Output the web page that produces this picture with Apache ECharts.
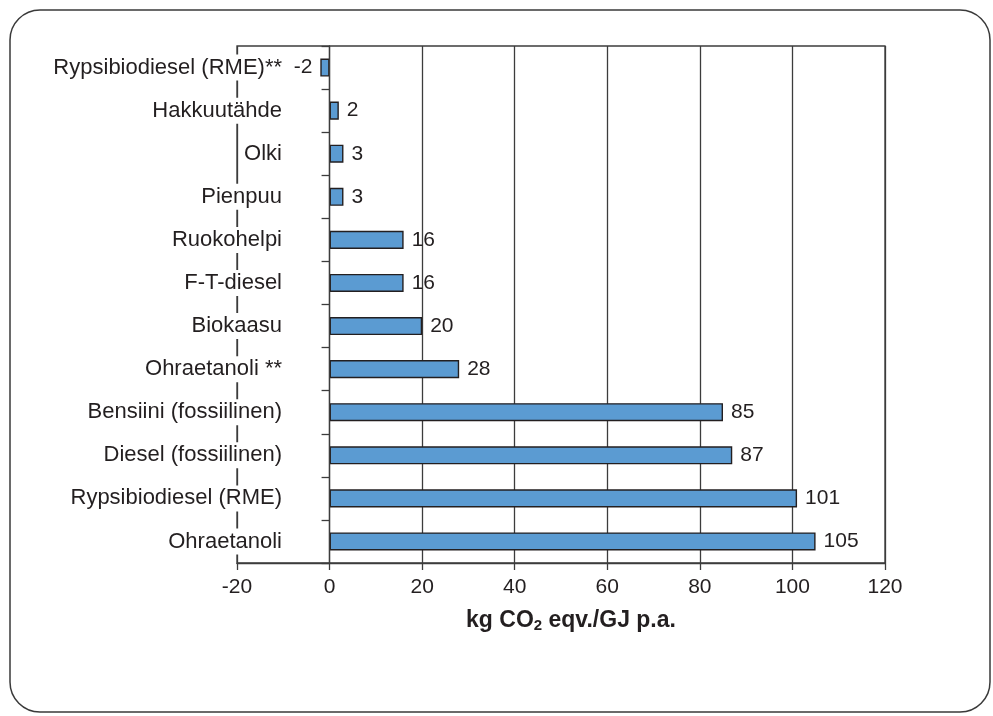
<!DOCTYPE html>
<html>
<head>
<meta charset="utf-8">
<script src="https://cdn.jsdelivr.net/npm/echarts@6/dist/echarts.min.js"></script>
<style>
  html, body { margin: 0; padding: 0; background: #fff; }
  #chart { width: 993px; height: 716px; }
</style>
</head>
<body>
<div id="chart"></div>
<script>
// Emissions per fuel, listed top to bottom
const categories = [
  'Rypsibiodiesel (RME)**',
  'Hakkuutähde',
  'Olki',
  'Pienpuu',
  'Ruokohelpi',
  'F-T-diesel',
  'Biokaasu',
  'Ohraetanoli **',
  'Bensiini (fossiilinen)',
  'Diesel (fossiilinen)',
  'Rypsibiodiesel (RME)',
  'Ohraetanoli'
];
const values = [-2, 2, 3, 3, 16, 16, 20, 28, 85, 87, 101, 105];
const xTicks = { min: -20, max: 120, interval: 20 };

const FONT = '"Liberation Sans", Arial, Helvetica, sans-serif';
const TEXT = '#231f20';
const LINE = '#3c3c3c';

const chart = echarts.init(document.getElementById('chart'));

chart.setOption({
  animation: false,
  backgroundColor: '#fff',
  textStyle: { fontFamily: FONT },
  graphic: [{
    type: 'rect',
    shape: { x: 10, y: 10, width: 980, height: 702, r: 30 },
    style: { fill: 'none', stroke: '#3a3a3a', lineWidth: 1.5 },
    z: -1
  }],
  grid: {
    left: 237, right: 108, top: 46, bottom: 153,
    outerBoundsMode: 'none',
    containLabel: false,
    show: true, borderColor: LINE, borderWidth: 1.3, backgroundColor: 'transparent'
  },
  xAxis: {
    type: 'value',
    min: xTicks.min, max: xTicks.max, interval: xTicks.interval,
    axisLine: { show: true, lineStyle: { color: LINE, width: 1.3 } },
    axisTick: { show: true, length: 7, lineStyle: { color: LINE, width: 1.3 } },
    splitLine: { show: true, lineStyle: { color: LINE, width: 1.3 } },
    axisLabel: { color: TEXT, fontSize: 21, margin: 14, fontFamily: FONT },
    name: '{n|kg CO}{s|2}{n| eqv./GJ p.a.}',
    nameLocation: 'middle',
    nameGap: 45,
    nameTextStyle: {
      padding: [0, 0, 0, 20],
      rich: {
        n: { fontSize: 23, fontWeight: 'bold', color: TEXT, fontFamily: FONT },
        s: { fontSize: 15, fontWeight: 'bold', color: TEXT, fontFamily: FONT, padding: [10, 0, 0, 0] }
      }
    }
  },
  yAxis: {
    type: 'category',
    inverse: true,
    data: categories,
    axisLine: { show: true, onZero: true, lineStyle: { color: LINE, width: 1.3 } },
    axisTick: { show: true, length: 8, lineStyle: { color: LINE, width: 1.3 } },
    axisLabel: {
      color: TEXT, fontSize: 22, margin: -47, fontFamily: FONT,
      backgroundColor: '#fff', padding: [2, 2, 2, 2]
    },
    z: 5
  },
  series: [{
    type: 'bar',
    data: values.map(v => ({
      value: v,
      label: { position: v < 0 ? 'left' : 'right' }
    })),
    barWidth: '42%',
    itemStyle: { color: '#5b9bd2', borderColor: '#231f20', borderWidth: 1.4 },
    label: {
      show: true, color: TEXT, fontSize: 21, distance: 8, fontFamily: FONT
    }
  }]
});
</script>
</body>
</html>
